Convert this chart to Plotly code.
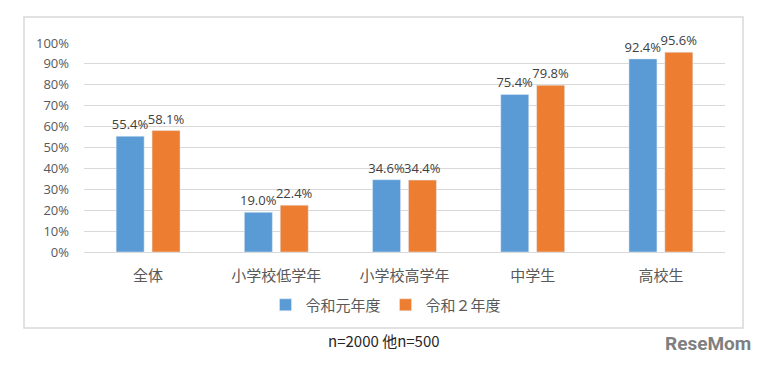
import plotly.graph_objects as go

categories = ["全体", "小学校低学年", "小学校高学年", "中学生", "高校生"]
series_names = ["令和元年度", "令和２年度"]
r1_values = [55.4, 19.0, 34.6, 75.4, 92.4]
r2_values = [58.1, 22.4, 34.4, 79.8, 95.6]
tick_vals = [0, 10, 20, 30, 40, 50, 60, 70, 80, 90, 100]
tick_text = [f"{v}%" for v in tick_vals]
note_text = "n=2000 他n=500"
logo_text = "ReseMom"

colors = ["#5B9BD5", "#ED7D31"]
font_fam = "Noto Sans CJK JP, Noto Sans, sans-serif"

fig = go.Figure()
for name, vals, col in zip(series_names, [r1_values, r2_values], colors):
    fig.add_trace(go.Bar(
        x=categories, y=vals, name=name, marker_color=col,
        text=[f"{v:.1f}%" for v in vals], textposition="outside",
        textfont=dict(size=13, color="#404040", family="Open Sans, sans-serif"),
        constraintext="none", cliponaxis=False,
    ))

W, H = 767, 366
L, R, T, B = 84, 42, 43, 114
pw, ph = W - L - R, H - T - B

def px(x):
    return (x - L) / pw

def py(y):
    return (H - B - y) / ph

fig.update_layout(
    width=W, height=H,
    margin=dict(l=L, r=R, t=T, b=B),
    paper_bgcolor="white", plot_bgcolor="white",
    barmode="group", bargap=0.44, bargroupgap=0.22,
    font=dict(family=font_fam, color="#595959", size=13),
    showlegend=True,
    legend=dict(orientation="h", x=px(386), y=py(305), xanchor="center", yanchor="middle",
                font=dict(size=15, color="#595959"), itemwidth=30, traceorder="normal",
                bgcolor="rgba(0,0,0,0)"),
    xaxis=dict(showgrid=False, showline=True, linecolor="#D9D9D9", linewidth=1,
               ticks="", tickfont=dict(size=15, color="#595959"), ticklabelstandoff=10),
    yaxis=dict(range=[0, 100], tickvals=tick_vals, ticktext=tick_text,
               showgrid=True, gridcolor="#D9D9D9", gridwidth=1, zeroline=False,
               showline=False, ticks="", ticklabelstandoff=14,
               tickfont=dict(size=13, color="#595959", family="Open Sans, sans-serif")),
    shapes=[dict(type="rect", xref="paper", yref="paper",
                 x0=px(24), x1=px(743), y0=py(328), y1=py(17),
                 line=dict(color="#D9D9D9", width=1.5), fillcolor="rgba(0,0,0,0)", layer="below")],
    annotations=[
        dict(text=note_text, xref="paper", yref="paper", x=px(384), y=py(340),
             xanchor="center", yanchor="middle", showarrow=False,
             font=dict(size=15, color="#262626", family=font_fam)),
        dict(text=f"<b>{logo_text}</b>", xref="paper", yref="paper", x=px(753), y=py(343),
             xanchor="right", yanchor="middle", showarrow=False,
             font=dict(size=19, color="#7F7F7F", family="Roboto, sans-serif")),
    ],
)

fig.write_html("out.html", config={"displayModeBar": False},
               post_script="document.body.style.margin='0';document.body.style.padding='0';")
